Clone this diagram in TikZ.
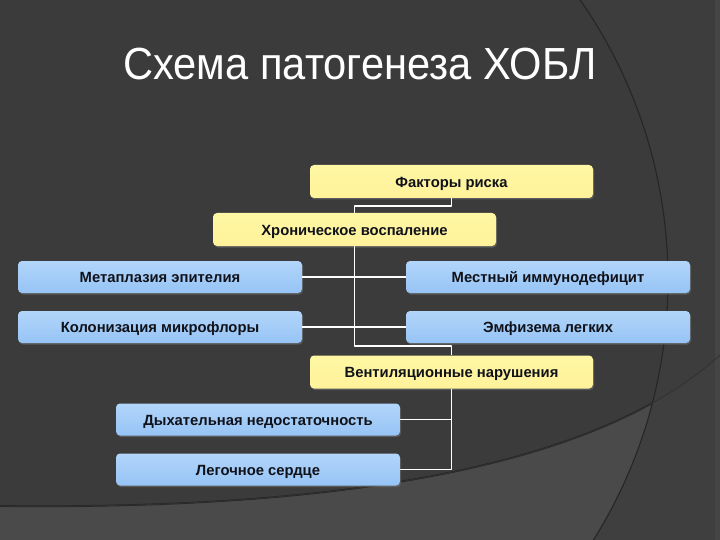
\documentclass[tikz,border=0pt]{standalone}
\usepackage{fontspec}
\setmainfont{Liberation Sans}
\usetikzlibrary{shadows}

\definecolor{slideC}{HTML}{3B3B3B}
\definecolor{slideOutC}{HTML}{3D3D3D}
\definecolor{bandC}{HTML}{4A4A4A}
\definecolor{bandOutC}{HTML}{3F3F3F}
\definecolor{stripC}{HTML}{454545}
\definecolor{arcC}{HTML}{262626}
\definecolor{yelTopC}{HTML}{FFF7A4}
\definecolor{yelMidC}{HTML}{FFFFD2}
\definecolor{yelBotC}{HTML}{FFF29A}
\definecolor{bluTopC}{HTML}{B2D5FA}
\definecolor{bluMidC}{HTML}{DFEFFF}
\definecolor{bluBotC}{HTML}{96C4F5}
\definecolor{inkC}{HTML}{10121A}

\begin{document}
\begin{tikzpicture}[
  x=1pt,
  y=-1pt,
  line join=round,
  boxbase/.style={
    rounded corners=4pt,
    inner sep=0pt,
    text=inkC,
    text height=1.35em,
    text depth=0.2em,
    font=\bfseries\fontsize{14.8}{17}\selectfont,
    drop shadow={shadow xshift=1pt, shadow yshift=-1.5pt, opacity=0.45}
  },
  yelbox/.style={boxbase, minimum width=283pt, minimum height=33pt,
    top color=yelTopC, middle color=yelMidC, bottom color=yelBotC},
  blubox/.style={boxbase, minimum width=284pt, minimum height=32pt,
    top color=bluTopC, middle color=bluMidC, bottom color=bluBotC},
  link/.style={white, line width=1.7pt}
]

\useasboundingbox (0,0) rectangle (720,540);

% Slide background with its arcs.
\begin{scope}
  \clip (0,0) rectangle (720,540);
  \fill[slideOutC] (0,0) rectangle (720,540);
  \fill[slideC] (178,280) circle (490pt);
  \begin{scope}
    \clip (0,506) .. controls (350,510) and (600,465) .. (720,355)
      -- (720,540) -- (0,540) -- cycle;
    \fill[bandOutC] (0,0) rectangle (720,540);
    \fill[bandC] (178,280) circle (490pt);
  \end{scope}
  \fill[stripC] (715,0) rectangle (720,540);
  \draw[arcC, line width=1.1pt] (178,280) circle (490pt);
  \begin{scope}
    \clip (178,280) circle (490pt);
    \draw[arcC, line width=1.8pt]
      (0,506) .. controls (350,510) and (600,465) .. (720,355);
  \end{scope}
  \draw[arcC!45!slideC, line width=0.8pt]
    (0,506) .. controls (350,510) and (600,465) .. (720,355);
\end{scope}

% Title.
\node[text=white, anchor=base, xscale=0.925,
  font=\fontsize{45}{54}\selectfont] (title) at (360,80)
  {Схема патогенеза ХОБЛ};

% Boxes.
\node[yelbox] (risk) at (451.5,181.5) {Факторы риска};
\node[yelbox] (infl) at (354.5,229.5) {Хроническое воспаление};
\node[blubox] (meta) at (160,277) {Метаплазия эпителия};
\node[blubox] (immu) at (548,277) {Местный иммунодефицит};
\node[blubox] (colo) at (160,327) {Колонизация микрофлоры};
\node[blubox] (emph) at (548,327) {Эмфизема легких};
\node[yelbox] (vent) at (451.5,372) {Вентиляционные нарушения};
\node[blubox] (resp) at (258,419.5) {Дыхательная недостаточность};
\node[blubox] (cor) at (258,469.5) {Легочное сердце};

% Connectors.
\draw[link] (risk.south) -- ++(0,8) -| (infl.north);
\draw[link] (infl.south) -- ++(0,100) -| (vent.north);
\draw[link] (meta.east) -- (immu.west);
\draw[link] (colo.east) -- (emph.west);
\draw[link] (vent.south) |- (resp.east);
\draw[link] (vent.south) |- (cor.east);

\end{tikzpicture}
\end{document}
